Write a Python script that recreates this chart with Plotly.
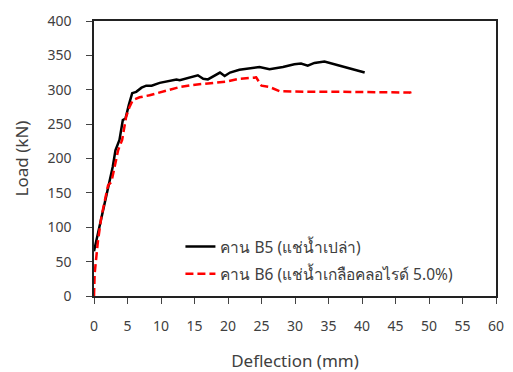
import plotly.graph_objects as go

b5_x = [0, 1.1, 2.8, 3.2, 3.8, 4.3, 4.7, 5.2, 5.7, 6.3, 7.1, 7.8, 8.6, 9.8, 10.8, 12.3, 12.8, 14.3, 15.5, 16.3, 17.0, 18.8, 19.5, 20.3, 21.7, 24.7, 26.2, 28.2, 29.9, 30.9, 31.9, 32.9, 34.4, 36.7, 40.4]
b5_y = [65, 115, 188, 212, 227, 256, 258, 278, 295, 297, 303, 306, 306, 310, 312, 315, 314, 318, 321, 316, 315, 325, 320, 325, 329, 333, 330, 333, 337, 338, 335, 339, 341, 335, 325]

b6_x = [0, 0.1, 0.6, 1.1, 2.1, 2.6, 3.3, 3.6, 4.2, 4.8, 5.3, 5.8, 6.8, 8.3, 11.3, 12.8, 14.8, 17.8, 19.8, 21.7, 24.2, 25.0, 26.2, 27.7, 31.7, 36.7, 42.7, 47.2, 47.4]
b6_y = [0, 33, 81, 115, 161, 166, 198, 212, 227, 261, 275, 285, 289, 292, 300, 304, 307, 310, 312, 316, 318, 306, 304, 298, 297, 297, 297, 296, 289]

x_ticks = list(range(0, 61, 5))
y_ticks = list(range(0, 401, 50))

name_b5 = "คาน B5 (แช่น้ำเปล่า)"
name_b6 = "คาน B6 (แช่น้ำเกลือคลอไรด์ 5.0%)"

font_family = "Tahoma, 'Noto Sans', 'DejaVu Sans', sans-serif"
text_color = "#404040"

fig = go.Figure()
fig.add_trace(go.Scatter(x=b5_x, y=b5_y, mode="lines", name=name_b5, legendgroup="b5",
                         line=dict(color="black", width=2.5)))
fig.add_trace(go.Scatter(x=b6_x, y=b6_y, mode="lines", name=name_b6, legendgroup="b6",
                         line=dict(color="#ff0000", width=2.5, dash="8px,4px")))

fig.update_layout(
    width=513, height=372,
    margin=dict(l=94, r=17, t=21, b=76),
    paper_bgcolor="white", plot_bgcolor="white",
    font=dict(family=font_family, size=14, color=text_color),
    showlegend=True,
    legend=dict(x=0.215, y=0.24, xanchor="left", yanchor="top",
                bgcolor="rgba(0,0,0,0)", font=dict(size=15.5, color=text_color),
                tracegroupgap=4),
    xaxis=dict(range=[0, 60], tickvals=x_ticks, showgrid=False, zeroline=False,
               showline=True, linecolor="#222222", linewidth=1.5, mirror=True,
               ticks="outside", ticklen=6, tickcolor="#444444",
               ticklabelstandoff=10, automargin=False,
               title=dict(text="Deflection (mm)", standoff=22)),
    yaxis=dict(range=[0, 400], tickvals=y_ticks, showgrid=False, zeroline=False,
               showline=True, linecolor="#222222", linewidth=1.5, mirror=True,
               ticks="outside", ticklen=6, tickcolor="#444444",
               ticklabelstandoff=12, automargin=False,
               title=dict(text="Load (kN)", standoff=14)),
)

fig.write_html("out.html")
